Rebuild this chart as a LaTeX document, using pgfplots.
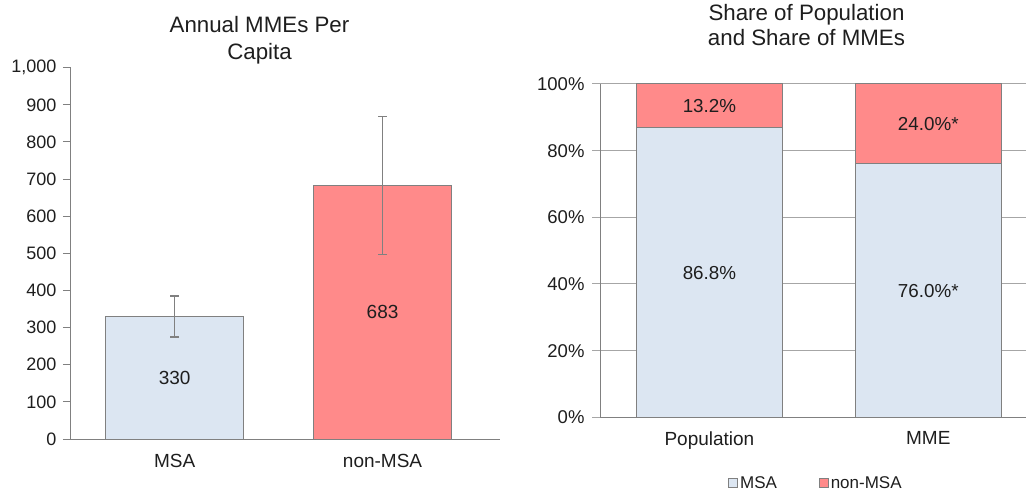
\documentclass[border=0pt]{standalone}
\usepackage{fontspec}
\setmainfont{Liberation Sans}
\usepackage{pgfplots}
\pgfplotsset{compat=1.18}
\definecolor{msablue}{HTML}{DCE6F2}
\definecolor{nonpink}{HTML}{FF8A8A}
\definecolor{edgegray}{HTML}{808080}
\definecolor{gridgray}{HTML}{A6A6A6}
\definecolor{txt}{HTML}{1E1E1E}
\begin{document}
\begin{tikzpicture}[x=1pt,y=1pt]
\useasboundingbox (0,0) rectangle (1026,493);
% ---------------- left chart ----------------
\begin{axis}[
  at={(71pt,54pt)}, anchor=south west,
  scale only axis, width=429pt, height=371.3pt,
  xmin=-0.499, xmax=1.565, ymin=0, ymax=1000,
  axis x line*=bottom, axis y line*=left,
  axis line style={edgegray, line width=1pt},
  ytick={0,100,...,1000},
  xtick={0,1}, xticklabels={MSA,non-MSA},
  x tick style={draw=none},
  y tick style={edgegray, line width=1pt},
  tick align=outside, major tick length=8pt,
  /pgf/number format/assume math mode=true,
  /pgf/number format/1000 sep={,},
  yticklabel style={font=\fontsize{18}{20}\selectfont, text=txt, xshift=-3pt},
  xticklabel style={font=\fontsize{19}{21}\selectfont, text=txt, yshift=-4pt},
  ybar, bar width=138pt, bar shift=0pt,
  clip=false,
]
\addplot[fill=msablue, draw=edgegray, line width=1pt,
  error bars/.cd, y dir=both, y explicit,
  error bar style={edgegray, line width=1.3pt},
  error mark options={edgegray, line width=1.3pt, mark size=4.5pt, rotate=90}]
  coordinates {(0,330) +- (0,55)};
\addplot[fill=nonpink, draw=edgegray, line width=1pt,
  error bars/.cd, y dir=both, y explicit,
  error bar style={edgegray, line width=1.3pt},
  error mark options={edgegray, line width=1.3pt, mark size=4.5pt, rotate=90}]
  coordinates {(1,683) +- (0,186)};
\addplot[draw=none, fill=none, nodes near coords, point meta=explicit symbolic,
  every node near coord/.style={anchor=center, font=\fontsize{19}{21}\selectfont, text=txt}]
  coordinates {(0,165)[330] (1,341.5)[683]};
\end{axis}
\node[align=center, font=\fontsize{22.3}{26.5}\selectfont, text=txt] at (259.5,453) {Annual MMEs Per\\Capita};
% ---------------- right chart ----------------
\begin{axis}[
  at={(600pt,75.7pt)}, anchor=south west,
  scale only axis, width=426pt, height=333.3pt,
  xmin=-0.5, xmax=1.4466, ymin=0, ymax=100,
  ybar stacked, bar width=146pt,
  ymajorgrids, grid style={gridgray, line width=1pt},
  axis x line*=bottom, axis y line*=left,
  axis line style={edgegray, line width=1pt},
  ytick={0,20,...,100},
  yticklabel={\pgfmathprintnumber{\tick}\%},
  xtick={0,1}, xticklabels={Population,MME},
  x tick style={draw=none},
  y tick style={gridgray, line width=1pt},
  tick align=outside, major tick length=8pt,
  /pgf/number format/assume math mode=true,
  yticklabel style={font=\fontsize{18.5}{20}\selectfont, text=txt, xshift=-4pt},
  xticklabel style={font=\fontsize{19}{21}\selectfont, text=txt, yshift=-3pt},
  legend style={at={(0.507,-0.197)}, anchor=center, draw=none, fill=none,
    legend columns=2, font=\fontsize{17}{19}\selectfont, text=txt,
    /tikz/every even column/.append style={column sep=40pt}, inner sep=0pt,
    cells={anchor=west}},
  legend image code/.code={\draw[#1, line width=0.8pt] (0pt,-4.5pt) rectangle (9pt,4.5pt);},
]
\addplot[fill=msablue, draw=edgegray, line width=1pt] coordinates {(0,86.8) (1,76.0)};
\addlegendentry{MSA}
\addplot[fill=nonpink, draw=edgegray, line width=1pt] coordinates {(0,13.2) (1,24.0)};
\addlegendentry{non-MSA}
\end{axis}
\begin{axis}[
  at={(600pt,75.7pt)}, anchor=south west,
  scale only axis, width=426pt, height=333.3pt,
  xmin=-0.5, xmax=1.4466, ymin=0, ymax=100,
  axis lines=none, ticks=none,
]
\addplot[draw=none, nodes near coords, point meta=explicit symbolic,
  every node near coord/.style={anchor=center, font=\fontsize{18.8}{20}\selectfont, text=txt}]
  coordinates {(0,43.4)[86.8\%] (1,38.0)[76.0\%*] (0,93.4)[13.2\%] (1,88.0)[24.0\%*]};
\end{axis}
\node[align=center, font=\fontsize{22.3}{25}\selectfont, text=txt] at (806.5,467.5) {Share of Population\\and Share of MMEs};
\end{tikzpicture}
\end{document}
